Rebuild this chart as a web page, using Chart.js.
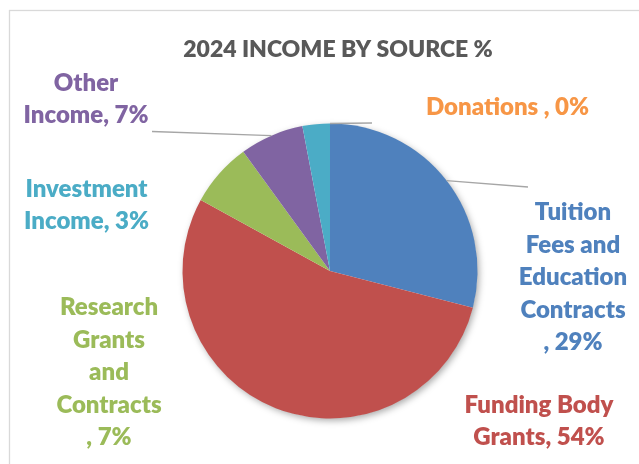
<!DOCTYPE html>
<html>
<head>
<meta charset="utf-8">
<script src="https://cdn.jsdelivr.net/npm/chart.js@4"></script>
<style>
html,body{margin:0;padding:0;background:#fff;}
canvas{display:block;}
</style>
</head>
<body>
<canvas id="c" width="639" height="464"></canvas>
<script>
const chartTitle = '2024 INCOME BY SOURCE %';
const categories = ['Tuition Fees and Education Contracts', 'Funding Body Grants', 'Research Grants and Contracts', 'Other Income', 'Investment Income', 'Donations'];
const values = [29, 54, 7, 7, 3, 0];
const colors = ['#4F81BD', '#C0504D', '#9BBB59', '#8064A2', '#4BACC6', '#F79646'];
const labelTemplates = [
  'Tuition\nFees and\nEducation\nContracts\n, {v}%',
  'Funding Body\nGrants, {v}%',
  'Research\nGrants\nand\nContracts\n, {v}%',
  'Other\nIncome, {v}%',
  'Investment\nIncome, {v}%',
  'Donations , {v}%'
];
// label block centres, relative to the pie centre (px)
const labelOffsets = [[243, 6], [209, 150], [-221, 101], [-244, -172], [-243.5, -66], [177.5, -164]];
// leader line label-side ends, relative to the pie centre (px)
const leaderEnds = [[198, -84], null, null, [-178, -139.5], null, [42, -148]];

const FONT = 'Lato, "Open Sans", sans-serif';
const WEIGHT = '800';
const LABEL_SIZE = 24;
const LINE_H = 32.5;

const decor = {
  id: 'decor',
  beforeDraw(chart) {
    const ctx = chart.ctx;
    ctx.save();
    ctx.fillStyle = '#fff';
    ctx.fillRect(0, 0, chart.width, chart.height);
    ctx.strokeStyle = '#D9D9D9';
    ctx.lineWidth = 1.3;
    ctx.strokeRect(9.5, 10.5, chart.width + 20, chart.height + 20);
    ctx.fillStyle = '#595959';
    ctx.font = WEIGHT + ' 23px ' + FONT;
    ctx.textAlign = 'center';
    ctx.textBaseline = 'alphabetic';
    ctx.fillText(chartTitle, 338, 56.5);
    ctx.restore();
  },
  beforeDatasetsDraw(chart) {
    const meta = chart.getDatasetMeta(0);
    const a = meta.data[0];
    const ctx = chart.ctx;
    ctx.save();
    ctx.shadowColor = 'rgba(0,0,0,0.35)';
    ctx.shadowBlur = 7;
    ctx.shadowOffsetX = 2;
    ctx.shadowOffsetY = 2.5;
    ctx.fillStyle = '#fff';
    ctx.beginPath();
    ctx.arc(a.x, a.y, a.outerRadius - 0.5, 0, Math.PI * 2);
    ctx.fill();
    ctx.restore();
  },
  afterDatasetsDraw(chart) {
    const meta = chart.getDatasetMeta(0);
    const a0 = meta.data[0];
    const cx = a0.x, cy = a0.y, r = a0.outerRadius;
    const ctx = chart.ctx;
    ctx.save();
    ctx.strokeStyle = '#A6A6A6';
    ctx.lineWidth = 1.3;
    meta.data.forEach((arc, i) => {
      const e = leaderEnds[i];
      if (!e) return;
      const mid = (arc.startAngle + arc.endAngle) / 2;
      ctx.beginPath();
      ctx.moveTo(cx + r * Math.cos(mid), cy + r * Math.sin(mid));
      ctx.lineTo(cx + e[0], cy + e[1]);
      ctx.stroke();
    });
    ctx.font = WEIGHT + ' ' + LABEL_SIZE + 'px ' + FONT;
    ctx.textAlign = 'center';
    ctx.textBaseline = 'alphabetic';
    values.forEach((v, i) => {
      const lines = labelTemplates[i].replace('{v}', v).split('\n');
      const [ox, oy] = labelOffsets[i];
      const first = cy + oy - (lines.length - 1) * LINE_H / 2;
      ctx.fillStyle = colors[i];
      lines.forEach((t, k) => {
        ctx.fillText(t, cx + ox, first + k * LINE_H + LABEL_SIZE * 0.34);
      });
    });
    ctx.restore();
  }
};

new Chart(document.getElementById('c'), {
  type: 'pie',
  data: {
    labels: categories,
    datasets: [{
      data: values,
      backgroundColor: colors,
      borderWidth: 0,
      hoverOffset: 0
    }]
  },
  options: {
    responsive: false,
    animation: false,
    layout: { padding: { top: 123.5, bottom: 45.5, left: 130, right: 109 } },
    plugins: {
      legend: { display: false },
      title: { display: false },
      tooltip: { enabled: false }
    }
  },
  plugins: [decor]
});
</script>
</body>
</html>
